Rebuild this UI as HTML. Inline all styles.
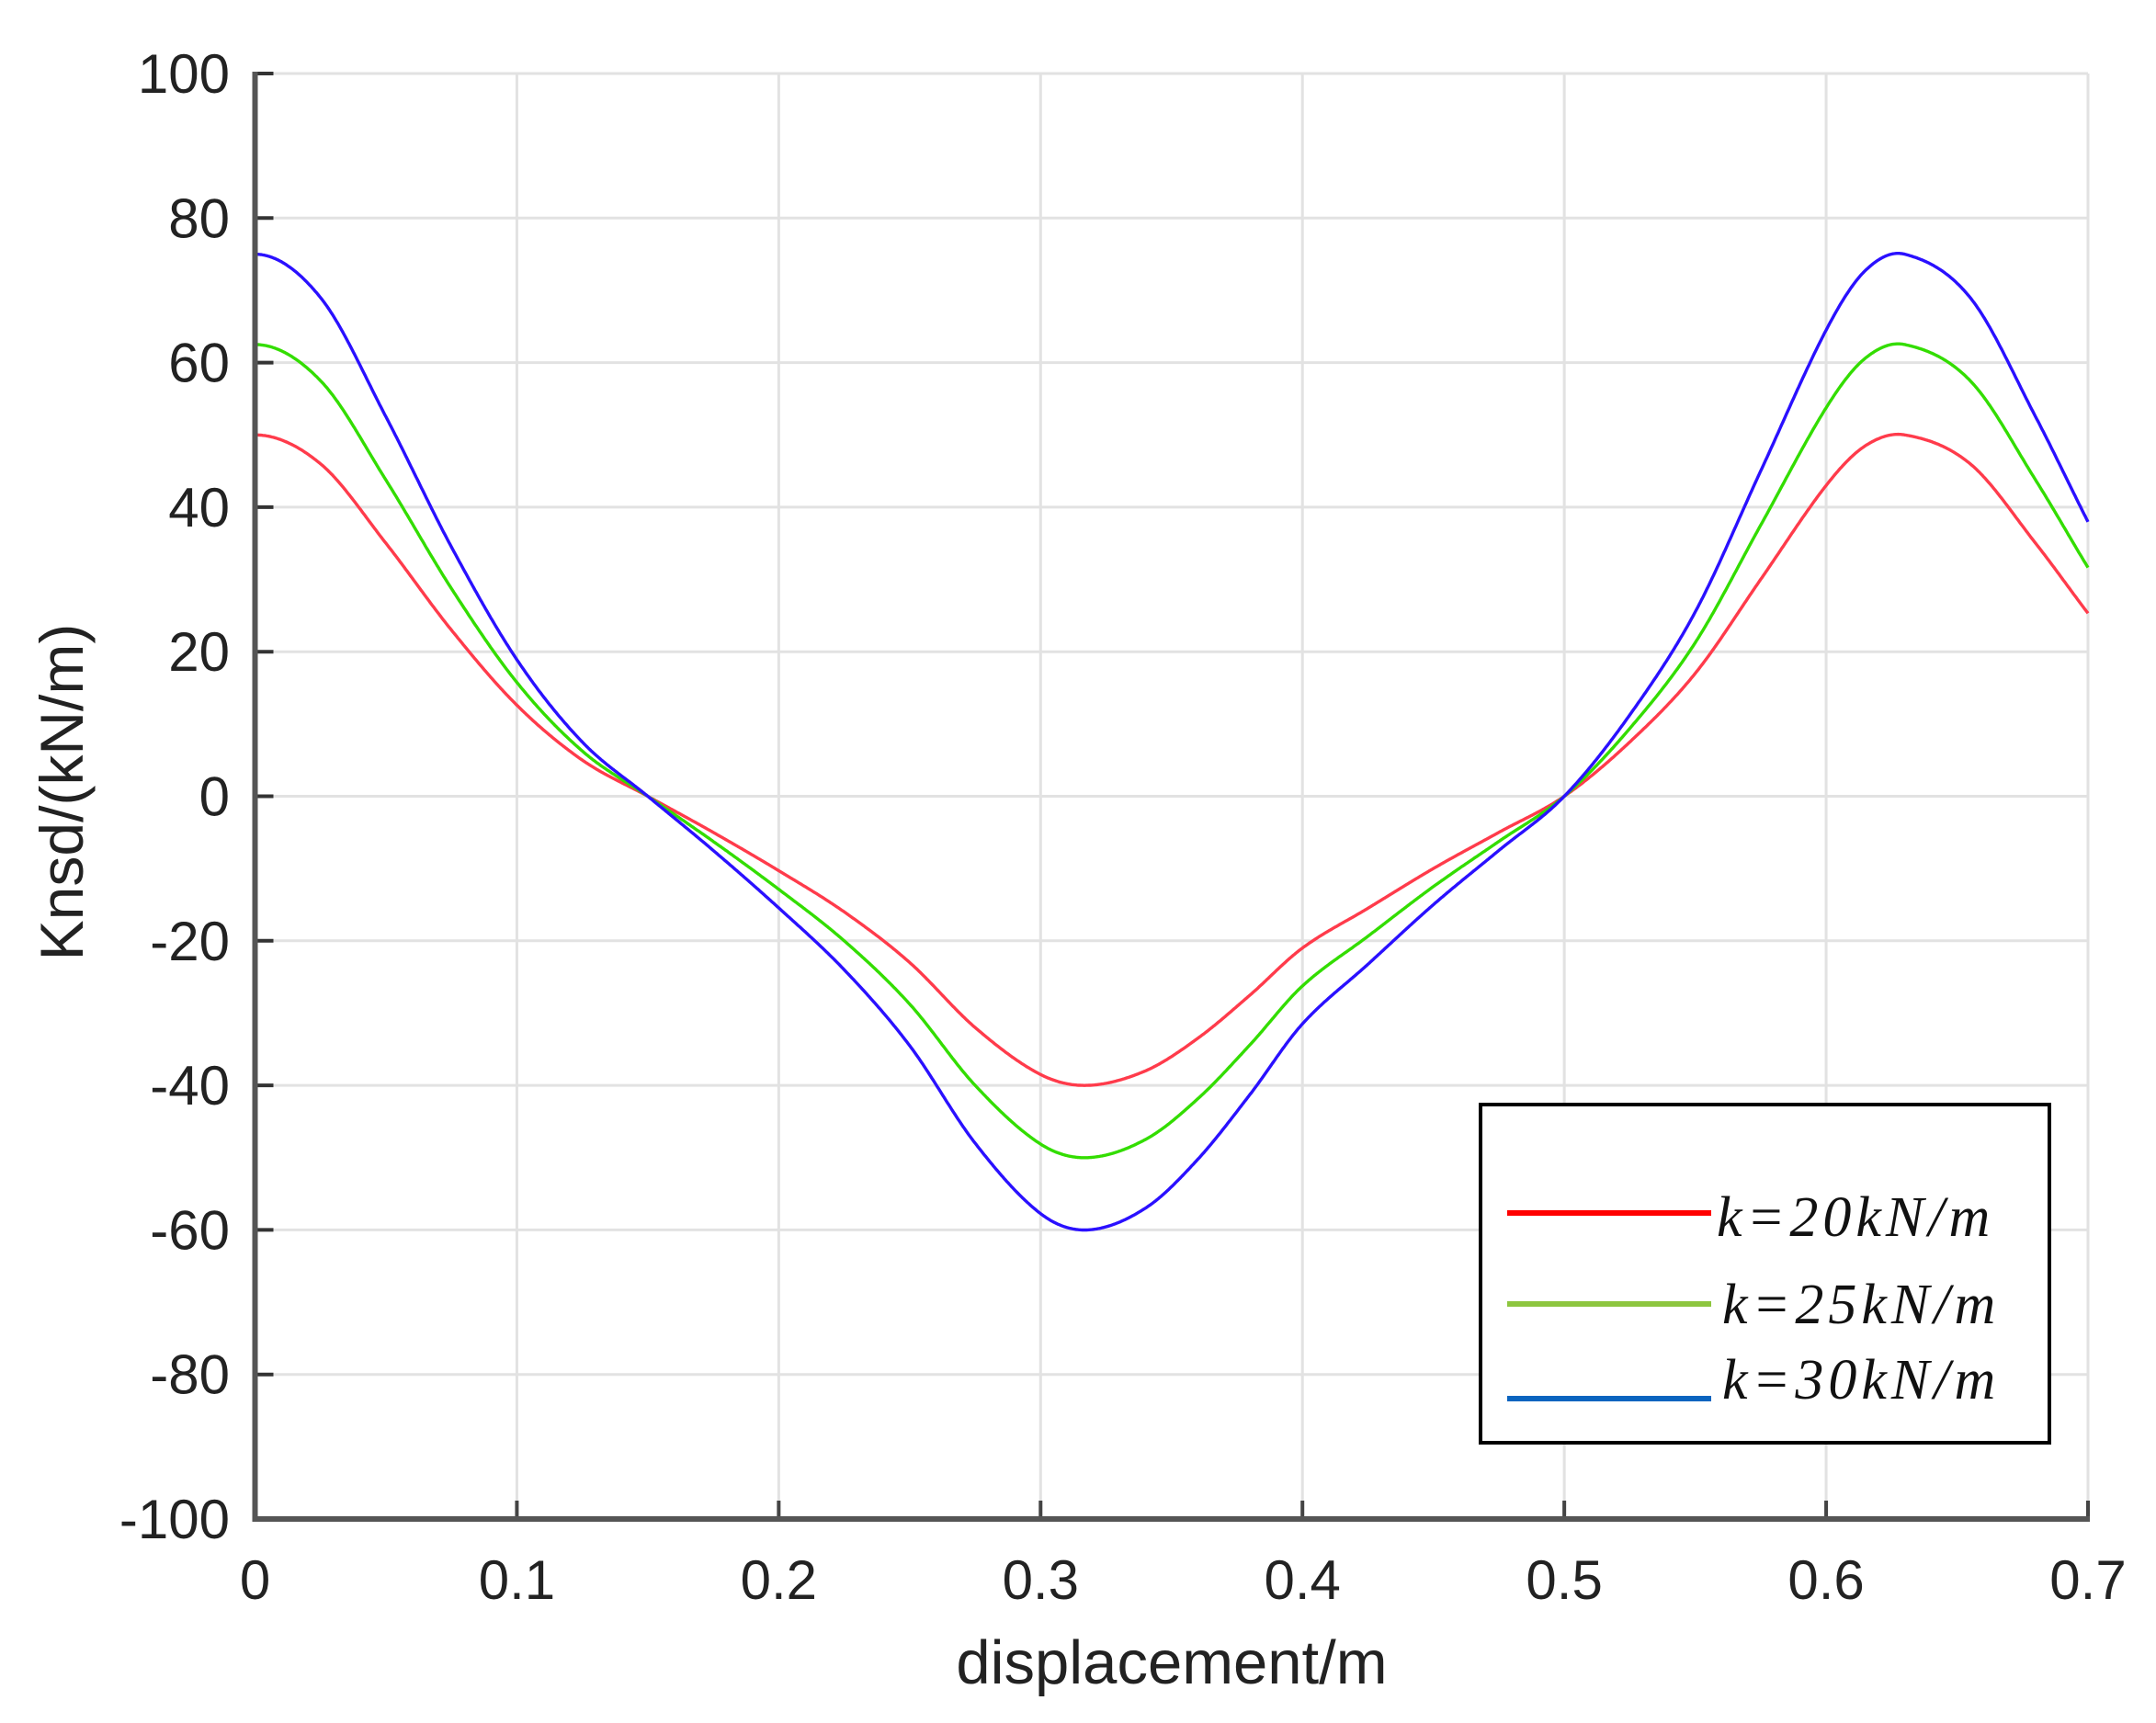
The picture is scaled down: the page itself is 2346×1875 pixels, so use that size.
<!DOCTYPE html>
<html><head><meta charset="utf-8"><style>
html,body{margin:0;padding:0;background:#fff;}
svg{display:block;}
</style></head><body>
<svg id="s" width="2346" height="1875" viewBox="0 0 2346 1875" xmlns="http://www.w3.org/2000/svg">
<rect width="2346" height="1875" fill="#fff"/>
<g id="grid" stroke="#e2e2e2" stroke-width="3"></g>
<g id="curves" fill="none" stroke-width="3.4" stroke-linejoin="round"></g>
<g id="axes"></g>
<g font-family="Liberation Sans, sans-serif" font-size="60" fill="#222" id="labels"></g>
<text x="1275" y="1832" font-family="Liberation Sans, sans-serif" font-size="67" fill="#222" text-anchor="middle">displacement/m</text>
<text transform="translate(90,862) rotate(-90)" font-family="Liberation Sans, sans-serif" font-size="66" fill="#222" text-anchor="middle">Knsd/(kN/m)</text>
<rect x="1611" y="1202" width="619" height="368" fill="#fff" stroke="#000" stroke-width="4"/>
<line x1="1640" y1="1320" x2="1862" y2="1320" stroke="#ff0000" stroke-width="6"/>
<line x1="1640" y1="1419" x2="1862" y2="1419" stroke="#8dc63f" stroke-width="6"/>
<line x1="1640" y1="1522" x2="1862" y2="1522" stroke="#0a64bf" stroke-width="6"/>
<g font-family="Liberation Serif, serif" font-style="italic" font-size="62" fill="#111" letter-spacing="5">
<text x="1868" y="1345">k=20kN/m</text>
<text x="1874" y="1440">k=25kN/m</text>
<text x="1874" y="1522">k=30kN/m</text>
</g>
</svg>
<script>
(function(){
var NS="http://www.w3.org/2000/svg";
var L=277.5,R=2272,T=80,B=1653;
function X(v){return L+(R-L)*v/0.7;}
function Y(v){return T+(B-T)*(100-v)/200;}
function el(p,tag,a){var e=document.createElementNS(NS,tag);for(var k in a)e.setAttribute(k,a[k]);p.appendChild(e);return e;}
var g=document.getElementById('grid'),ax=document.getElementById('axes'),lb=document.getElementById('labels');
for(var i=0;i<=7;i++){var x=X(i/10);if(i>0)el(g,'line',{x1:x,y1:T,x2:x,y2:B});
 var t=el(lb,'text',{x:x,y:1740,'text-anchor':'middle'});t.textContent=i==0?'0':'0.'+i;
 el(ax,'line',{x1:x,y1:B,x2:x,y2:B-20,stroke:'#444','stroke-width':4});}
for(var v=-100;v<=100;v+=20){var y=Y(v);if(v>-100)el(g,'line',{x1:L,y1:y,x2:R,y2:y});
 var t=el(lb,'text',{x:250,y:y+21,'text-anchor':'end'});t.textContent=String(v);
 el(ax,'line',{x1:L,y1:y,x2:L+20,y2:y,stroke:'#333','stroke-width':4});}
el(ax,'line',{x1:L,y1:T-2,x2:L,y2:B+3,stroke:'#555','stroke-width':6});
el(ax,'line',{x1:L-3,y1:B,x2:R+2,y2:B,stroke:'#555','stroke-width':6});
var lx=[0,0.025,0.05,0.075,0.1,0.125,0.15,0.175,0.2,0.225,0.25,0.275,0.3];
var ly=[50,46,35,23,12.6,5,0,-5,-10.3,-16,-23,-32,-38.5];
var rx=[0.318,0.34,0.36,0.38,0.4,0.425,0.45,0.475,0.5,0.525,0.55,0.575,0.6,0.615];
var ry=[-40,-38,-33.5,-27.5,-21,-15.5,-10,-5,0,7.5,17,30,43,48.5];
var px=[-0.05,-0.025],py=[35,46];
for(var i=0;i<lx.length;i++){px.push(lx[i]);py.push(ly[i]);}
for(var i=0;i<rx.length;i++){px.push(rx[i]);py.push(ry[i]);}
for(var i=0;i<lx.length;i++){px.push(lx[i]+0.63);py.push(ly[i]);}
function interp(x){for(var i=1;i<px.length-2;i++){if(x<=px[i+1]){var x0=px[i-1],x1=px[i],x2=px[i+1],x3=px[i+2];
 var y0=py[i-1],y1=py[i],y2=py[i+1],y3=py[i+2];var h=x2-x1,t=(x-x1)/h;
 var m1=(y2-y0)/(x2-x0)*h,m2=(y3-y1)/(x3-x1)*h;var t2=t*t,t3=t2*t;
 return (2*t3-3*t2+1)*y1+(t3-2*t2+t)*m1+(-2*t3+3*t2)*y2+(t3-t2)*m2;}}return py[py.length-1];}
var c=document.getElementById('curves');
[[1,'#ff3b4b'],[1.25,'#33dd00'],[1.5,'#2a10ff']].forEach(function(s){
 var d='';for(var k=0;k<=1400;k++){var x=0.7*k/1400;d+=(k?'L':'M')+X(x).toFixed(1)+' '+Y(s[0]*interp(x)).toFixed(1);}
 el(c,'path',{d:d,stroke:s[1]});});
})();
</script>
</body></html>
